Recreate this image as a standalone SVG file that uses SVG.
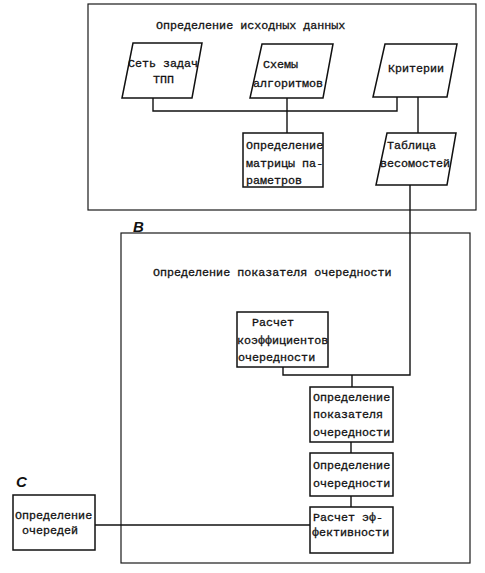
<svg xmlns="http://www.w3.org/2000/svg" width="485" height="573" viewBox="0 0 485 573">
<style>
.frame{fill:none;stroke:#1a1a1a;stroke-width:1.2}
.box{fill:#fff;stroke:#111;stroke-width:1.5}
.wire{fill:none;stroke:#111;stroke-width:1.4}
text{font-family:"Liberation Mono","DejaVu Sans Mono",monospace;font-size:11.7px;fill:#111;stroke:#111;stroke-width:0.3}
.lbl{font-family:"Liberation Sans",Arial,sans-serif;font-style:italic;font-weight:bold;font-size:15px;stroke:none}
</style>
<rect width="485" height="573" fill="#fff"/>
<g id="groupA">
<rect class="frame" x="88" y="4" width="388" height="206"/>
<text x="156" y="29">Определение исходных данных</text>
</g>
<g id="groupB">
<rect class="frame" x="121" y="233" width="349" height="330"/>
<text class="lbl" x="133" y="232">B</text>
<text x="153" y="276">Определение показателя очередности</text>
</g>
<g id="connectors">
<path class="wire" d="M153,98 V111 H397 V97"/>
<path class="wire" d="M287,98 V133"/>
<path class="wire" d="M418,97 V133"/>
<path class="wire" d="M410,185 V375 H283 V367"/>
<path class="wire" d="M352,375 V387"/>
<path class="wire" d="M351,442 V453"/>
<path class="wire" d="M351,496 V507"/>
<path class="wire" d="M95,525 H310"/>
</g>
<g id="set">
<polygon class="box" points="133,43 202,43 192,98 122,98"/>
<text x="128" y="67">Сеть задач</text>
<text x="153" y="83">ТПП</text>
</g>
<g id="schemes">
<polygon class="box" points="262,44 333,44 323,98 250,98"/>
<text x="263" y="68">Схемы</text>
<text x="253" y="87">алгоритмов</text>
</g>
<g id="criteria">
<polygon class="box" points="385,44 457,44 447,97 373,97"/>
<text x="388" y="72">Критерии</text>
</g>
<g id="matrix">
<rect class="box" x="243" y="133" width="80" height="54"/>
<text x="246" y="149">Определение</text>
<text x="246" y="167">матрицы па-</text>
<text x="246" y="184">раметров</text>
</g>
<g id="table">
<polygon class="box" points="387,133 456,133 447,185 376,185"/>
<text x="387" y="149">Таблица</text>
<text x="380" y="167">весомостей</text>
</g>
<g id="coef">
<rect class="box" x="237" y="312" width="91" height="55"/>
<text x="252" y="326">Расчет</text>
<text x="237" y="344">коэффициентов</text>
<text x="238" y="361">очередности</text>
</g>
<g id="indicator">
<rect class="box" x="310" y="387" width="83" height="55"/>
<text x="313" y="401">Определение</text>
<text x="313" y="418">показателя</text>
<text x="313" y="436">очередности</text>
</g>
<g id="order">
<rect class="box" x="310" y="453" width="83" height="43"/>
<text x="313" y="469">Определение</text>
<text x="313" y="487">очередности</text>
</g>
<g id="efficiency">
<rect class="box" x="310" y="507" width="83" height="46"/>
<text x="313" y="521">Расчет эф-</text>
<text x="312" y="536">фективности</text>
</g>
<g id="queues">
<text class="lbl" x="16" y="487">C</text>
<rect class="box" x="13" y="495" width="82" height="55"/>
<text x="15" y="519">Определение</text>
<text x="22" y="534">очередей</text>
</g>
</svg>
